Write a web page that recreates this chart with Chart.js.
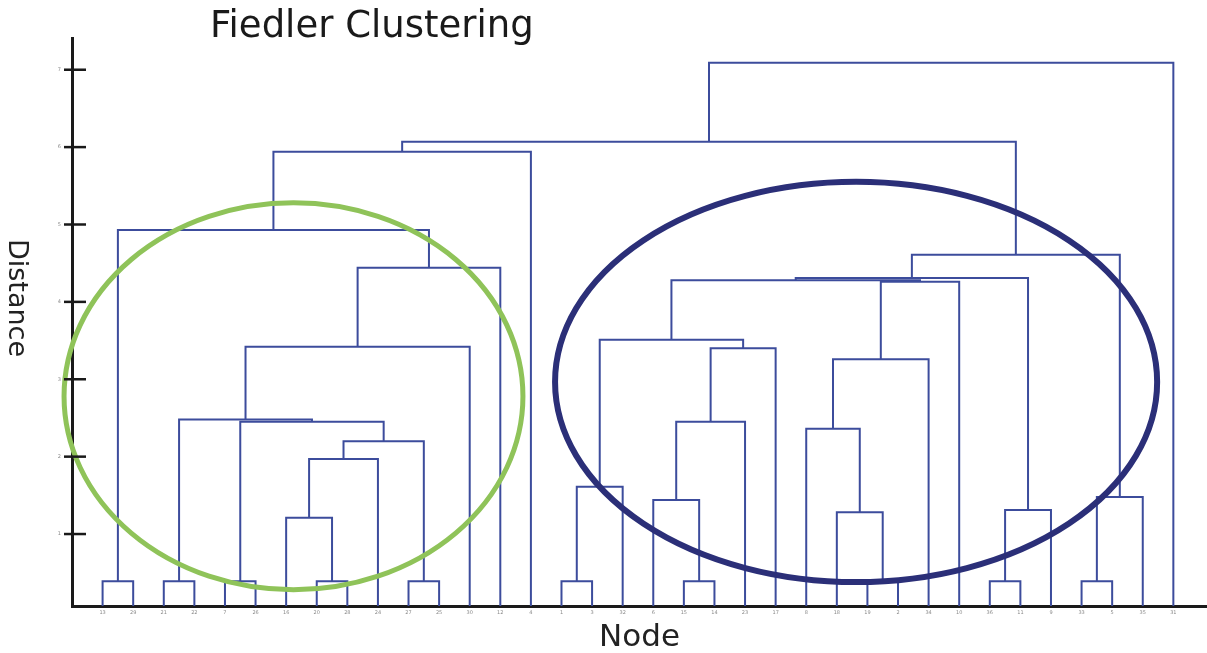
<!DOCTYPE html>
<html>
<head>
<meta charset="utf-8">
<title>Fiedler Clustering</title>
<script src="https://cdn.jsdelivr.net/npm/chart.js@4.4.1/dist/chart.umd.min.js"></script>
<style>
  html, body { margin: 0; padding: 0; background: #fff; }
  canvas { display: block; }
</style>
</head>
<body>
<canvas id="dendro" width="1207" height="653"></canvas>
<script>
// Node labels under the leaves, left to right
const leafLabels = ['13', '29', '21', '22', '7', '26', '16', '20', '28', '24', '27', '25', '30', '12', '4',
  '1', '3', '32', '6', '15', '14', '23', '17', '8', '18', '19', '2', '34', '10', '36', '11', '9', '33', '5', '35', '31'];

// Merges: left child, right child, distance. Ids 0-35 are leaves, merge k becomes node 36 + k
const mergeLeft   = [0, 2, 4, 7, 10, 6, 41, 42, 38, 37, 45, 46, 36, 48,
  15, 50, 19, 18, 53, 54, 51, 25, 24, 23, 59, 60, 56, 29, 63, 62, 32, 66, 65, 49, 69];
const mergeRight  = [1, 3, 5, 8, 11, 39, 9, 40, 43, 44, 12, 13, 47, 14,
  16, 17, 20, 52, 21, 22, 55, 26, 57, 58, 27, 28, 61, 30, 31, 64, 33, 34, 67, 68, 35];
const mergeHeight = [0.39, 0.39, 0.39, 0.39, 0.39, 1.21, 1.97, 2.20, 2.45, 2.48, 3.42, 4.44, 4.93, 5.94,
  0.39, 1.61, 0.39, 1.44, 2.45, 3.40, 3.51, 0.39, 1.28, 2.36, 3.26, 4.26, 4.28, 0.39, 1.31, 4.31, 0.39, 1.48, 4.61, 6.07, 7.09];

const yTickValues = [1, 2, 3, 4, 5, 6, 7];
const yTickLabels = ['1', '2', '3', '4', '5', '6', '7'];

// Circled groups (x in leaf positions, y in distance)
const greenGroup = { cx: 6.24, cy: 2.78, rx: 7.5, ry: 2.5 };
const blueGroup  = { cx: 24.63, cy: 2.965, rx: 9.84, ry: 2.586 };

// build the U shaped links
const nodeX = leafLabels.map((_, i) => i);
const nodeH = leafLabels.map(() => 0);
const datasets = [];
mergeLeft.forEach((l, k) => {
  const r = mergeRight[k];
  const h = mergeHeight[k];
  nodeX.push((nodeX[l] + nodeX[r]) / 2);
  nodeH.push(h);
  datasets.push({
    data: [
      { x: nodeX[l], y: nodeH[l] },
      { x: nodeX[l], y: h },
      { x: nodeX[r], y: h },
      { x: nodeX[r], y: nodeH[r] }
    ],
    showLine: true,
    borderColor: '#3c4c9c',
    borderWidth: 2,
    pointRadius: 0,
    fill: false
  });
});

// ellipses, inner tick marks and free text
const extras = {
  id: 'extras',
  afterDatasetsDraw(chart) {
    const { ctx, scales: { x, y } } = chart;
    [[greenGroup, '#8fc359', 5], [blueGroup, '#2b2f78', 6]].forEach(([g, color, w]) => {
      const cx = x.getPixelForValue(g.cx);
      const cy = y.getPixelForValue(g.cy);
      const rx = Math.abs(x.getPixelForValue(g.cx + g.rx) - cx);
      const ry = Math.abs(y.getPixelForValue(g.cy + g.ry) - cy);
      ctx.save();
      ctx.beginPath();
      ctx.ellipse(cx, cy, rx, ry, 0, 0, Math.PI * 2);
      ctx.strokeStyle = color;
      ctx.lineWidth = w;
      ctx.stroke();
      ctx.restore();
    });
  },
  afterDraw(chart) {
    const { ctx, scales: { y } } = chart;
    ctx.save();
    ctx.strokeStyle = '#1a1a1a';
    ctx.lineWidth = 2.5;
    y.ticks.forEach(t => {
      const py = y.getPixelForValue(t.value);
      ctx.beginPath();
      ctx.moveTo(y.right - 8, py);
      ctx.lineTo(y.right + 14, py);
      ctx.stroke();
    });

    ctx.fillStyle = '#1a1a1a';
    ctx.font = '37px "DejaVu Sans"';
    ctx.textAlign = 'left';
    ctx.textBaseline = 'alphabetic';
    ctx.fillText('Fiedler Clustering', 210, 37);

    ctx.translate(16, 298);
    ctx.rotate(Math.PI / 2);
    ctx.font = '27px "DejaVu Sans"';
    ctx.textAlign = 'center';
    ctx.textBaseline = 'middle';
    ctx.fillStyle = '#222';
    ctx.fillText('Distance', 0, 0);
    ctx.restore();
  }
};

new Chart(document.getElementById('dendro'), {
  type: 'scatter',
  data: { datasets: datasets },
  options: {
    responsive: false,
    animation: false,
    layout: { padding: { top: 38, right: 0, bottom: 0, left: 0 } },
    plugins: {
      legend: { display: false },
      tooltip: { enabled: false }
    },
    scales: {
      x: {
        type: 'linear',
        min: -1,
        max: 36.1,
        grid: { display: false, drawTicks: false },
        border: { display: true, color: '#1a1a1a', width: 3 },
        afterBuildTicks: scale => { scale.ticks = leafLabels.map((_, i) => ({ value: i })); },
        afterFit: scale => { scale.height = 47; },
        ticks: {
          autoSkip: false,
          maxRotation: 0,
          padding: 4,
          color: '#8a8a8a',
          font: { size: 5, family: 'DejaVu Sans' },
          callback: v => leafLabels[v]
        },
        title: {
          display: true,
          text: 'Node',
          color: '#222',
          padding: 0,
          font: { size: 31, family: 'DejaVu Sans', lineHeight: 1 }
        }
      },
      y: {
        type: 'linear',
        min: 0.07,
        max: 7.41,
        grid: { display: false, drawTicks: false },
        border: { display: true, color: '#1a1a1a', width: 3 },
        afterBuildTicks: scale => { scale.ticks = yTickValues.map(v => ({ value: v })); },
        afterFit: scale => { scale.width = 72; },
        ticks: {
          padding: 11,
          color: '#8a8a8a',
          font: { size: 5, family: 'DejaVu Sans' },
          callback: (v, i) => yTickLabels[i]
        }
      }
    }
  },
  plugins: [extras]
});
</script>
</body>
</html>
